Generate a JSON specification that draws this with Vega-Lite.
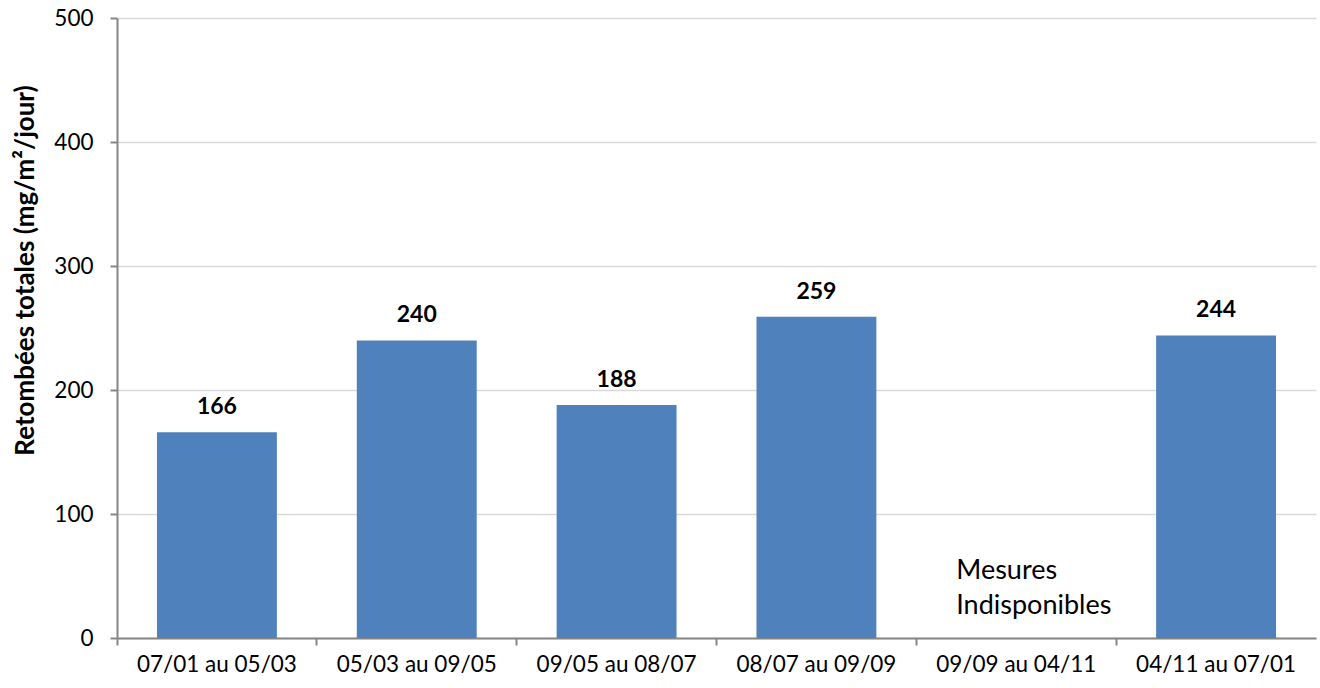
{
  "$schema": "https://vega.github.io/schema/vega-lite/v6.json",
  "width": 1199,
  "height": 620,
  "autosize": {"type": "none"},
  "padding": {"left": 117, "top": 18, "right": 4, "bottom": 50},
  "background": "white",
  "config": {
    "font": "Lato",
    "view": {"stroke": null},
    "axis": {"labelFont": "Lato", "titleFont": "Lato"}
  },
  "data": {
    "values": [
      {"periode": "07/01 au 05/03", "retombees": 166, "note": null},
      {"periode": "05/03 au 09/05", "retombees": 240, "note": null},
      {"periode": "09/05 au 08/07", "retombees": 188, "note": null},
      {"periode": "08/07 au 09/09", "retombees": 259, "note": null},
      {"periode": "09/09 au 04/11", "retombees": null, "note": "Mesures Indisponibles"},
      {"periode": "04/11 au 07/01", "retombees": 244, "note": null}
    ]
  },
  "layer": [
    {
      "mark": {"type": "bar", "color": "#4F81BD"},
      "encoding": {
        "x": {
          "field": "periode",
          "type": "nominal",
          "sort": ["07/01 au 05/03", "05/03 au 09/05", "09/05 au 08/07", "08/07 au 09/09", "09/09 au 04/11", "04/11 au 07/01"],
          "scale": {"domain": ["07/01 au 05/03", "05/03 au 09/05", "09/05 au 08/07", "08/07 au 09/09", "09/09 au 04/11", "04/11 au 07/01"], "paddingInner": 0.4, "paddingOuter": 0.2},
          "axis": {
            "title": null,
            "labelAngle": 0,
            "labelFontSize": 22.5,
            "labelColor": "#000000",
            "labelPadding": 15,
            "ticks": false,
            "domain": true,
            "domainColor": "#868686",
            "domainWidth": 2
          }
        },
        "y": {
          "field": "retombees",
          "type": "quantitative",
          "scale": {"domain": [0, 500]},
          "axis": {
            "title": "Retombées totales (mg/m²/jour)",
            "titleFontSize": 26,
            "titleFontWeight": "bold",
            "titleColor": "#000000",
            "titlePadding": 15,
            "titleY": 252,
            "values": [0, 100, 200, 300, 400, 500],
            "labelFontSize": 22.5,
            "labelColor": "#000000",
            "labelPadding": 17,
            "tickSize": 7,
            "tickColor": "#868686",
            "tickWidth": 2,
            "domainColor": "#868686",
            "domainWidth": 2,
            "grid": true,
            "gridColor": "#D9D9D9",
            "gridWidth": 1.5
          }
        }
      }
    },
    {
      "mark": {"type": "text", "fontSize": 23, "fontWeight": "bold", "baseline": "alphabetic", "dy": -18, "color": "#000000"},
      "encoding": {
        "x": {"field": "periode", "type": "nominal", "axis": {"title": null, "orient": "bottom", "labels": false, "domain": false, "grid": false, "tickSize": 7, "tickColor": "#868686", "tickWidth": 2, "bandPosition": -0.3333}},
        "y": {"field": "retombees", "type": "quantitative"},
        "text": {"field": "retombees", "type": "quantitative"}
      }
    },
    {
      "transform": [{"filter": "datum.note != null"}],
      "mark": {"type": "text", "fontSize": 27, "align": "left", "baseline": "middle", "dx": -60, "lineHeight": 35, "lineBreak": " ", "color": "#000000"},
      "encoding": {
        "x": {"field": "periode", "type": "nominal", "axis": null},
        "y": {"datum": 54},
        "text": {"field": "note"}
      }
    }
  ],
  "resolve": {"axis": {"x": "independent"}}
}
